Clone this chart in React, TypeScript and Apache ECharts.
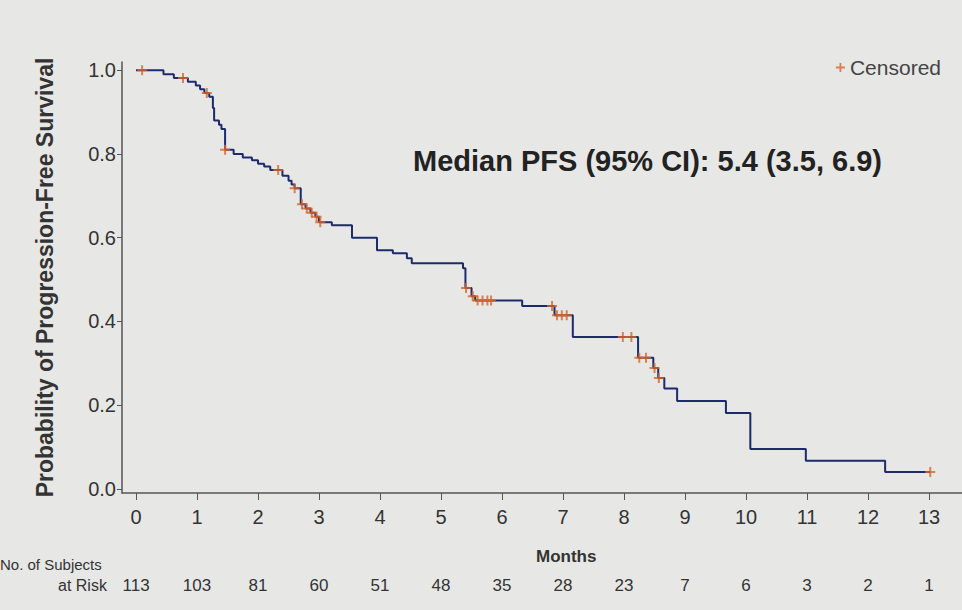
import React, { useEffect, useRef } from "react";
import * as echarts from "echarts";

// Kaplan-Meier event steps: [month, survival probability after the drop]
const kmSteps: [number, number][] = [
  [0, 1.0], [0.45, 0.991], [0.62, 0.982], [0.85, 0.973], [0.98, 0.964],
  [1.05, 0.955], [1.12, 0.946], [1.2, 0.937], [1.26, 0.91], [1.28, 0.88],
  [1.36, 0.87], [1.4, 0.86], [1.46, 0.81], [1.6, 0.8], [1.75, 0.792],
  [1.9, 0.785], [2.0, 0.777], [2.1, 0.77], [2.2, 0.762], [2.4, 0.748],
  [2.5, 0.736], [2.55, 0.727], [2.6, 0.718], [2.7, 0.68], [2.78, 0.67],
  [2.86, 0.66], [2.94, 0.65], [3.0, 0.637], [3.21, 0.63], [3.54, 0.6],
  [3.95, 0.57], [4.21, 0.563], [4.44, 0.551], [4.52, 0.539], [5.36, 0.527],
  [5.4, 0.48], [5.5, 0.46], [5.56, 0.45], [6.33, 0.437], [6.86, 0.415],
  [7.16, 0.363], [8.23, 0.313], [8.48, 0.289], [8.56, 0.265], [8.66, 0.24],
  [8.87, 0.21], [9.67, 0.181], [10.07, 0.095], [10.98, 0.067], [12.28, 0.04],
  [13.02, 0.04],
];

// censoring times (months)
const censorTimes: number[] = [
  0.1, 0.77, 1.16, 1.46, 2.33, 2.6, 2.72, 2.8, 2.88, 2.96, 3.02,
  5.41, 5.52, 5.6, 5.68, 5.76, 5.82, 6.82, 6.9, 6.98, 7.06,
  7.98, 8.12, 8.25, 8.36, 8.5, 8.57, 13.02,
];

const monthTicks: number[] = [0, 1, 2, 3, 4, 5, 6, 7, 8, 9, 10, 11, 12, 13];
const atRisk: number[] = [113, 103, 81, 60, 51, 48, 35, 28, 23, 7, 6, 3, 2, 1];
const yTicks: number[] = [0, 0.2, 0.4, 0.6, 0.8, 1.0];

const plusPath = "path://M4,0 H6 V4 H10 V6 H6 V10 H4 V6 H0 V4 H4 Z";
const LINE = "#1d2a6c";
const CENS = "#d8642a";
const TXT = "#333333";
const FONT = "Liberation Sans, Arial, sans-serif";

function survivalAt(t: number): number {
  let s = 1;
  for (const [time, v] of kmSteps) {
    if (time <= t + 1e-9) s = v;
  }
  return s;
}

export default function App() {
  const ref = useRef<HTMLDivElement>(null);
  useEffect(() => {
    if (!ref.current) return;
    const chart = echarts.init(ref.current, null, { renderer: "svg" });
    const censorData = censorTimes.map((t) => [t, survivalAt(t)]);
    chart.setOption({
      animation: false,
      backgroundColor: "#e7e8e6",
      textStyle: { fontFamily: FONT },
      grid: { left: 122, top: 62, right: 0, bottom: 117, outerBoundsMode: "none" },
      legend: {
        data: [{ name: "Censored", icon: plusPath }],
        right: 16,
        top: 52,
        itemWidth: 9,
        itemHeight: 9,
        itemGap: 6,
        textStyle: { fontSize: 21, color: "#444", fontFamily: FONT },
      },
      xAxis: [
        {
          type: "value",
          min: -0.23,
          max: 13.54,
          splitLine: { show: false },
          axisLine: { show: true, onZero: false, lineStyle: { color: "#555", width: 1.5 } },
          axisTick: {
            show: true,
            customValues: monthTicks,
            length: 7,
            lineStyle: { color: "#555" },
          },
          axisLabel: {
            customValues: monthTicks,
            margin: 14,
            fontSize: 20,
            color: TXT,
            formatter: (v: number) => String(v),
          },
        },
        {
          type: "value",
          min: -0.23,
          max: 13.54,
          position: "bottom",
          offset: 76,
          splitLine: { show: false },
          axisLine: { show: false, onZero: false },
          axisTick: { show: false },
          axisLabel: {
            customValues: monthTicks,
            margin: 8,
            fontSize: 17,
            color: TXT,
            formatter: (v: number) => String(atRisk[monthTicks.indexOf(Math.round(v))] ?? ""),
          },
        },
      ],
      yAxis: {
        type: "value",
        min: -0.01,
        max: 1.02,
        splitLine: { show: false },
        axisLine: { show: true, onZero: false, lineStyle: { color: "#555", width: 1.5 } },
        axisTick: { show: true, customValues: yTicks, length: 5, lineStyle: { color: "#555" } },
        axisLabel: {
          customValues: yTicks,
          margin: 6,
          fontSize: 20,
          color: TXT,
          formatter: (v: number) => v.toFixed(1),
        },
        name: "Probability of Progression-Free Survival",
        nameLocation: "middle",
        nameGap: 66,
        nameTextStyle: { fontSize: 23, fontWeight: "bold", color: TXT, fontFamily: FONT },
      },
      series: [
        {
          name: "PFS",
          type: "line",
          step: "end",
          data: kmSteps,
          showSymbol: false,
          lineStyle: { color: LINE, width: 2 },
          itemStyle: { color: LINE },
          z: 2,
        },
        {
          name: "Censored",
          type: "scatter",
          data: censorData,
          symbol: plusPath,
          symbolSize: 10,
          itemStyle: { color: CENS },
          z: 3,
        },
      ],
      graphic: [
        {
          type: "text",
          left: 413,
          top: 146,
          style: {
            text: "Median PFS (95% CI): 5.4 (3.5, 6.9)",
            font: `bold 29px ${FONT}`,
            fill: "#222",
          },
        },
        {
          type: "text",
          left: 536,
          top: 548,
          style: {
            text: "Months",
            font: `bold 17px ${FONT}`,
            fill: TXT,
          },
        },
        {
          type: "text",
          left: 0,
          top: 557,
          style: { text: "No. of Subjects", font: `15px ${FONT}`, fill: TXT },
        },
        {
          type: "text",
          left: 58,
          top: 577,
          style: { text: "at Risk", font: `16px ${FONT}`, fill: TXT },
        },
      ],
    });
    return () => chart.dispose();
  }, []);
  return (
    <div
      ref={ref}
      style={{ position: "absolute", left: 0, top: 0, width: 962, height: 610 }}
    />
  );
}
